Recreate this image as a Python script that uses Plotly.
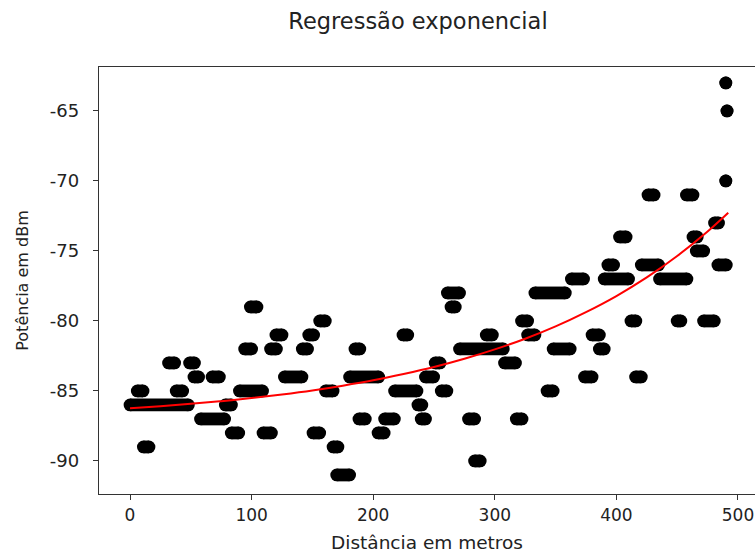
import plotly.graph_objects as go

# Each horizontal run of dots: signal level (dBm) and the distance span (m) it covers
dash_dbm = [
    -63, -65, -70,
    -71, -71,
    -73,
    -74, -74,
    -75,
    -76, -76, -76,
    -77, -77, -77,
    -78, -78,
    -79, -79,
    -80, -80, -80, -80, -80,
    -81, -81, -81, -81, -81, -81,
    -82, -82, -82, -82, -82, -82, -82,
    -83, -83, -83, -83,
    -84, -84, -84, -84, -84, -84, -84,
    -85, -85, -85, -85, -85, -85, -85,
    -86, -86, -86,
    -87, -87, -87, -87, -87, -87,
    -88, -88, -88, -88,
    -89, -89,
    -90,
    -91,
]
dash_x_start = [
    490, 491, 490,
    426, 457.6,
    480.7,
    402.6, 463,
    465.7,
    393, 420.5, 483.5,
    363, 390, 435.5,
    261, 333,
    99, 264,
    156, 322, 412, 450, 471.7,
    120, 147, 224.5, 293, 327, 380,
    94.3, 115.6, 141.7, 185, 271, 348, 386,
    31.7, 49, 251, 308,
    52.6, 67.5, 127, 180.6, 243, 373.8, 415.8,
    6, 38, 90, 160.8, 217.6, 256, 343,
    0, 78.4, 236.8,
    58, 188.3, 209.4, 239.5, 278.4, 317.7,
    83.3, 109.4, 150.5, 204,
    11, 167,
    283.4,
    170,
]
dash_x_end = [
    490, 491, 490,
    431, 463,
    484,
    408, 466.5,
    471.8,
    397.7, 434.7, 490.4,
    373, 410, 458,
    271, 358,
    104.4, 267.5,
    160.6, 327, 416, 453, 480.5,
    125, 151, 228.4, 298, 333, 386,
    100, 120.4, 146, 189, 307, 362, 390,
    36.7, 53, 255, 317,
    56.4, 73.5, 141.4, 204.5, 249.7, 380, 420.5,
    10.7, 43.3, 109, 167, 236, 260.6, 348,
    48, 83.4, 240,
    77.8, 193.5, 217.4, 243, 283.4, 322.4,
    89.4, 116.3, 156, 209,
    15.6, 171,
    288,
    180.6,
]

# Fitted exponential regression curve
curve_x = [0, 25, 50, 75, 100, 125, 150, 175, 200, 225, 250, 275, 300,
           325, 350, 375, 400, 425, 450, 475, 492]
curve_y = [-86.24, -86.09, -85.92, -85.73, -85.51, -85.25, -84.96, -84.62,
           -84.24, -83.79, -83.29, -82.70, -82.03, -81.27, -80.39, -79.37,
           -78.22, -76.89, -75.36, -73.61, -72.27]

x_ticks = [0, 100, 200, 300, 400, 500]
y_ticks = [-90, -85, -80, -75, -70, -65]

title_text = "Regressão exponencial"
x_title = "Distância em metros"
y_title = "Potência em dBm"

FONT = "DejaVu Sans"
DOT = 12.8

xs, ys = [], []
for y, a, b in zip(dash_dbm, dash_x_start, dash_x_end):
    xs += [a, b, None]
    ys += [y, y, None]

fig = go.Figure()
fig.add_trace(go.Scatter(
    x=xs, y=ys, mode="lines+markers",
    line=dict(color="black", width=DOT),
    marker=dict(color="black", size=DOT, line=dict(width=0)),
    showlegend=False, hoverinfo="skip",
))
fig.add_trace(go.Scatter(
    x=curve_x, y=curve_y, mode="lines",
    line=dict(color="red", width=2, shape="spline"),
    showlegend=False,
))

fig.update_layout(
    width=755, height=556,
    margin=dict(l=99, r=0, t=67, b=62),
    paper_bgcolor="white", plot_bgcolor="white",
    font=dict(family=FONT, color="#222"),
    title=dict(text=title_text, x=418 / 755, xref="container", xanchor="center",
               y=1 - 21 / 556, yref="container", yanchor="middle",
               font=dict(size=22.5, family=FONT, color="#222")),
)
fig.update_xaxes(
    range=[-25.5, 514], tickmode="array", tickvals=x_ticks,
    ticktext=[str(v) for v in x_ticks],
    showgrid=False, zeroline=False,
    showline=True, linecolor="#333", linewidth=1.3, mirror=True,
    ticks="outside", ticklen=5, tickcolor="#333", tickwidth=1.2,
    tickfont=dict(size=17, family=FONT, color="#222"),
    title=dict(text=x_title, font=dict(size=18.5, family=FONT, color="#222"), standoff=12),
)
fig.update_yaxes(
    range=[-92.36, -61.86], tickmode="array", tickvals=y_ticks,
    ticktext=[str(v) for v in y_ticks],
    showgrid=False, zeroline=False,
    showline=True, linecolor="#333", linewidth=1.3, mirror=False,
    ticks="outside", ticklen=5, tickcolor="#333", tickwidth=1.2,
    ticklabelstandoff=10,
    tickfont=dict(size=18, family=FONT, color="#222"),
    title=dict(text=y_title, font=dict(size=16, family=FONT, color="#222"), standoff=17),
)

fig.write_html("out.html")
